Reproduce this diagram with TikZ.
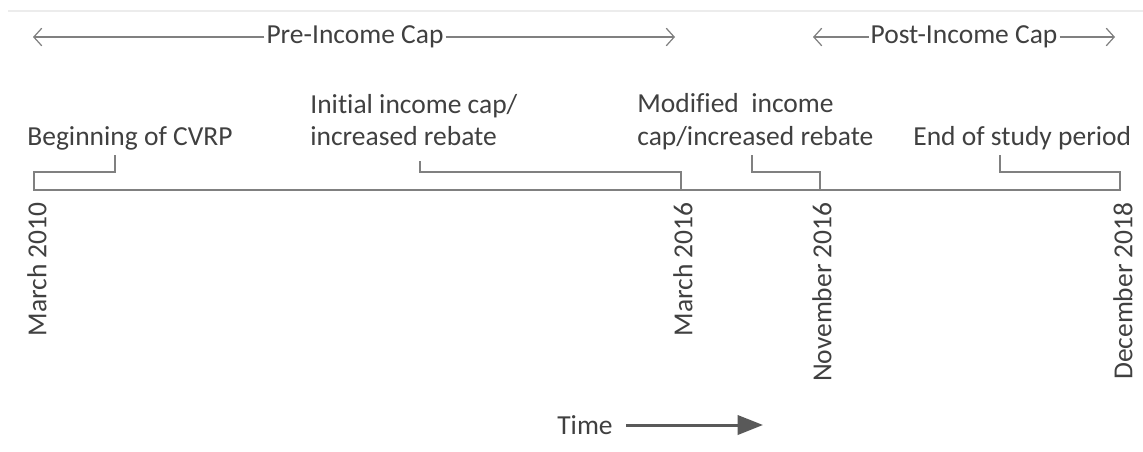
\documentclass[tikz,border=0pt]{standalone}
\usepackage{fontspec}
\setmainfont{Carlito}[Ligatures=NoCommon]
\usetikzlibrary{arrows.meta}
\definecolor{txt}{HTML}{404040}
\definecolor{ln}{HTML}{808080}
\definecolor{faint}{HTML}{ECECEC}
\definecolor{tarrow}{HTML}{595959}
\begin{document}
\begin{tikzpicture}[x=0.02cm,y=-0.02cm,
  lbl/.style={font=\fontsize{15.65}{18}\selectfont, text=txt, inner sep=0pt},
  datelbl/.style={lbl, rotate=90, anchor=east},
  halfspan/.style={draw=ln, line width=0.7pt, -{Straight Barb[length=4.5pt,width=10pt]}},
  bracketline/.style={draw=ln, line width=0.7pt},
  axisline/.style={draw=ln, line width=1.4pt},
  timearrow/.style={draw=tarrow, line width=1.7pt, -{Triangle[length=14.5pt,width=11pt]}}
]
\useasboundingbox (0,0) rectangle (1143,451);
% faint top rule
\draw[faint, line width=1.6pt] (8,11) -- (1143,11);

% period spans
\node[lbl, inner sep=1pt] (pre) at (355,37) {Pre-Income Cap};
\coordinate (preL) at (33,37);
\coordinate (preR) at (675,37);
\draw[halfspan] (pre.west) -- (preL);
\draw[halfspan] (pre.east) -- (preR);

\node[lbl, inner sep=1pt] (post) at (964,37) {Post-Income Cap};
\coordinate (postL) at (813,37);
\coordinate (postR) at (1115,37);
\draw[halfspan] (post.west) -- (postL);
\draw[halfspan] (post.east) -- (postR);

% event labels
\node[lbl, anchor=base west] (beg) at (27,145) {Beginning of CVRP};
\node[lbl, anchor=base west] (initA) at (310,113) {Initial income cap/};
\node[lbl, anchor=base west] (initB) at (310,145) {increased rebate};
\node[lbl, anchor=base west] (modA) at (637,112) {Modified\ \ income};
\node[lbl, anchor=base west] (modB) at (637,145) {cap/increased rebate};
\node[lbl, anchor=base west] (fin) at (913,145) {End of study period};

% axis and ticks
\coordinate (t1) at (34,190);
\coordinate (t2) at (681,190);
\coordinate (t3) at (820,190);
\coordinate (t4) at (1120,190);
\coordinate (axL) at (33,190);
\coordinate (axR) at (1121,190);
\coordinate (h) at (0,172);
\coordinate (k1) at (115,155);
\coordinate (k2) at (420,161);
\coordinate (k3) at (752,155);
\coordinate (k4) at (1000,155);

\draw[bracketline] (k1) -- (k1 |- h) -| (t1);
\draw[bracketline] (k2) -- (k2 |- h) -| (t2);
\draw[bracketline] (k3) -- (k3 |- h) -| (t3);
\draw[bracketline] (k4) -- (k4 |- h) -| (t4);
\draw[axisline] (axL) -- (axR);

% dates
\node[datelbl] (d1) at (37,202) {March 2010};
\node[datelbl] (d2) at (683,202) {March 2016};
\node[datelbl] (d3) at (822,202) {November 2016};
\node[datelbl] (d4) at (1123,202) {December 2018};

% time arrow
\node[lbl] (time) at (585,425) {Time};
\coordinate (timeEnd) at (763,425);
\draw[timearrow, shorten <=7.4pt] (time.east) -- (timeEnd);
\end{tikzpicture}
\end{document}
